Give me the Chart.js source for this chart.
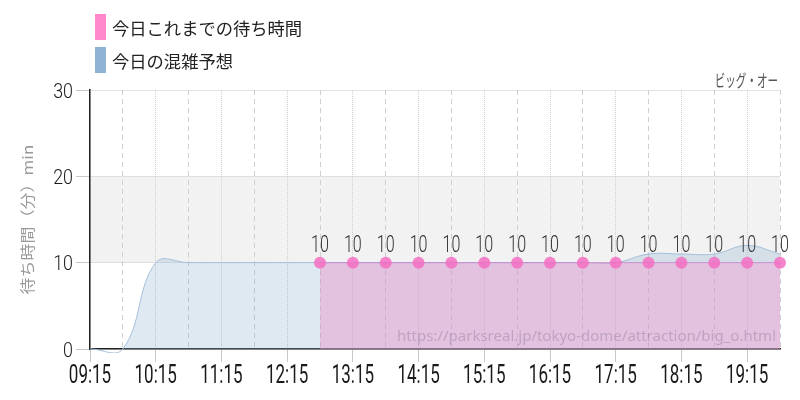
<!DOCTYPE html>
<html>
<head>
<meta charset="utf-8">
<script src="https://cdn.jsdelivr.net/npm/chart.js@4"></script>
<style>
  html, body { margin: 0; padding: 0; background: #fff; }
  #wrap { position: relative; width: 800px; height: 400px; }
  #legend { position: absolute; left: 95px; top: 14px; font-family: "Noto Sans CJK JP", sans-serif; font-size: 17.3px; color: #222; }
  .item { display: flex; align-items: center; height: 26px; margin-bottom: 7px; }
  .box { width: 11px; height: 26px; margin-right: 6px; }
</style>
</head>
<body>
<div id="wrap">
  <canvas id="chart" width="800" height="400"></canvas>
  <div id="legend"></div>
</div>
<script>
// 30 minute slots
const times = ["09:15","09:45","10:15","10:45","11:15","11:45","12:15","12:45","13:15","13:45","14:15",
  "14:45","15:15","15:45","16:15","16:45","17:15","17:45","18:15","18:45","19:15","19:45"];
const forecast = [0, 0, 10, 10, 10, 10, 10, 10, 10, 10, 10, 10, 10, 10, 10, 10, 10, 11, 11, 11, 12, 11];
const actual = [null, null, null, null, null, null, null, 10, 10, 10, 10, 10, 10, 10, 10, 10, 10, 10, 10, 10, 10, 10];
const yTicks = [0, 10, 20, 30];

const attraction = "ビッグ・オー";
const yTitle = "待ち時間（分）min";
const source = "https://parksreal.jp/tokyo-dome/attraction/big_o.html";
const numFont = "Roboto, sans-serif";
const jpFont = "'Noto Sans CJK JP', sans-serif";

const legendItems = [
  { label: "今日これまでの待ち時間", color: "#ff88cc" },
  { label: "今日の混雑予想", color: "#8fb3d3" }
];
document.getElementById("legend").innerHTML = legendItems.map(i =>
  `<div class="item"><div class="box" style="background:${i.color}"></div>${i.label}</div>`).join("");

// narrow text: the original draws condensed glyphs
function narrowText(ctx, text, x, y, sx, align, rot) {
  ctx.save();
  ctx.translate(x, y);
  ctx.scale(sx, 1);
  if (rot) ctx.rotate(rot);
  ctx.textAlign = align;
  ctx.fillText(text, 0, 0);
  ctx.restore();
}

const extras = {
  id: "extras",
  beforeDraw(chart) {
    const { ctx, chartArea: a, scales: { y } } = chart;
    ctx.save();
    ctx.fillStyle = "#f2f2f2";
    ctx.fillRect(a.left, y.getPixelForValue(20), a.right - a.left, y.getPixelForValue(10) - y.getPixelForValue(20));
    ctx.restore();
  },
  afterDatasetsDraw(chart) {
    const { ctx, chartArea: a } = chart;
    ctx.save();
    ctx.font = "15px 'Noto Sans', sans-serif";
    ctx.fillStyle = "rgba(100,90,120,0.3)";
    ctx.textAlign = "right";
    ctx.textBaseline = "alphabetic";
    ctx.fillText(source, a.right - 4, a.bottom - 8);

    const meta = chart.getDatasetMeta(1);
    ctx.font = "300 23px " + numFont;
    ctx.fillStyle = "#333";
    meta.data.forEach((pt, i) => {
      if (actual[i] == null) return;
      narrowText(ctx, String(actual[i]), pt.x, pt.y - 11, 0.7, "center");
    });
    ctx.restore();
  },
  afterDraw(chart) {
    const { ctx, chartArea: a, scales: { x, y } } = chart;
    ctx.save();
    ctx.textBaseline = "alphabetic";
    ctx.fillStyle = "#1a1a1a";
    ctx.font = "400 25px " + numFont;
    times.forEach((t, i) => {
      if (i % 2) return;
      narrowText(ctx, t, x.getPixelForTick(i), a.bottom + 34, 0.68, "center");
    });
    ctx.font = "300 21px " + numFont;
    yTicks.forEach(v => {
      narrowText(ctx, String(v), 73, y.getPixelForValue(v) + 7.5, 0.85, "right");
    });
    ctx.fillStyle = "#555";
    ctx.font = "17px " + jpFont;
    narrowText(ctx, attraction, a.right - 2, 87, 0.62, "right");
    ctx.fillStyle = "#999";
    ctx.font = "17px " + jpFont;
    narrowText(ctx, yTitle, 33, (a.top + a.bottom) / 2, 0.85, "center", -Math.PI / 2);
    ctx.restore();
  }
};

new Chart(document.getElementById("chart"), {
  type: "line",
  data: {
    labels: times,
    datasets: [
      {
        label: "今日の混雑予想",
        data: forecast,
        order: 2,
        borderColor: "#a3c0dc",
        borderWidth: 1,
        backgroundColor: "rgba(140,176,210,0.28)",
        fill: "origin",
        tension: 0.4,
        capBezierPoints: false,
        clip: 4,
        pointRadius: 0
      },
      {
        label: "今日これまでの待ち時間",
        data: actual,
        order: 1,
        borderColor: "rgba(200,110,200,0.6)",
        borderWidth: 1,
        backgroundColor: "rgba(232,148,205,0.47)",
        fill: "origin",
        tension: 0.4,
        pointRadius: 6,
        pointBorderWidth: 0,
        pointBackgroundColor: "rgba(245,110,195,0.85)"
      }
    ]
  },
  options: {
    responsive: false,
    animation: false,
    layout: { padding: { top: 90, right: 20, left: 0, bottom: 0 } },
    plugins: {
      legend: { display: false },
      tooltip: { enabled: false }
    },
    scales: {
      x: {
        offset: false,
        afterFit(s) { s.height = 51; },
        grid: {
          color: "#cfcfcf",
          tickLength: 13,
          tickColor: c => (c.index % 2 === 0 ? "#c8c8c8" : "rgba(0,0,0,0)")
        },
        border: {
          display: true,
          color: "#222",
          width: 1.5,
          dash: c => (c.index % 2 === 0 ? [1, 1] : [5, 4])
        },
        ticks: { display: false, autoSkip: false, maxRotation: 0 }
      },
      y: {
        min: 0,
        max: 30,
        afterFit(s) { s.width = 90; },
        afterBuildTicks(s) { s.ticks = yTicks.map(v => ({ value: v })); },
        grid: { color: "#c8c8c8", tickLength: 14, tickColor: "#c8c8c8" },
        border: { display: true, color: "#222", width: 1.5, dash: [1, 1] },
        ticks: { display: false }
      }
    }
  },
  plugins: [extras]
});
</script>
</body>
</html>
